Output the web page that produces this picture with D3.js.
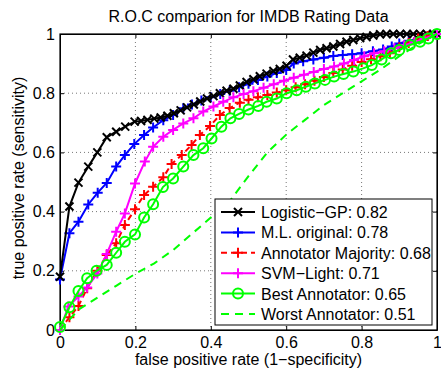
<!DOCTYPE html>
<html>
<head>
<meta charset="utf-8">
<script src="https://cdn.jsdelivr.net/npm/d3@7"></script>
<style>
body { margin: 0; background: #fff; }
text { font-family: "Liberation Sans", Arial, sans-serif; }
</style>
</head>
<body>
<script>
// ROC points [fpr, tpr]
var logisticGP = [[0,0.18],[0.025,0.417],[0.049,0.498],[0.075,0.552],[0.099,0.6],[0.124,0.651],[0.149,0.67],[0.173,0.687],[0.198,0.704],[0.215,0.706],[0.232,0.71],[0.25,0.714],[0.267,0.718],[0.285,0.724],[0.302,0.732],[0.32,0.742],[0.337,0.752],[0.355,0.762],[0.372,0.772],[0.39,0.782],[0.407,0.79],[0.424,0.8],[0.442,0.808],[0.46,0.815],[0.477,0.826],[0.495,0.838],[0.513,0.847],[0.53,0.857],[0.548,0.866],[0.566,0.875],[0.583,0.882],[0.601,0.893],[0.618,0.914],[0.636,0.92],[0.654,0.927],[0.672,0.937],[0.69,0.946],[0.707,0.952],[0.725,0.958],[0.743,0.966],[0.76,0.974],[0.778,0.98],[0.796,0.986],[0.813,0.99],[0.831,0.995],[0.849,0.999],[0.866,1],[0.884,1],[0.902,1],[0.92,1],[0.937,1],[0.955,1],[0.973,1],[0.99,1],[1,1]];
var mlOriginal = [[0,0.171],[0.025,0.327],[0.049,0.366],[0.075,0.424],[0.1,0.464],[0.124,0.497],[0.149,0.552],[0.172,0.591],[0.197,0.628],[0.223,0.659],[0.247,0.684],[0.274,0.709],[0.3,0.726],[0.327,0.749],[0.35,0.762],[0.375,0.775],[0.4,0.786],[0.425,0.797],[0.45,0.808],[0.475,0.82],[0.5,0.832],[0.525,0.845],[0.55,0.856],[0.575,0.868],[0.6,0.878],[0.62,0.9],[0.645,0.908],[0.672,0.914],[0.7,0.92],[0.725,0.926],[0.75,0.929],[0.775,0.932],[0.8,0.935],[0.83,0.942],[0.857,0.948],[0.88,0.958],[0.9,0.968],[0.925,0.977],[0.95,0.985],[0.975,0.993],[1,1]];
var annotatorMajority = [[0,0],[0.025,0.043],[0.049,0.081],[0.072,0.141],[0.099,0.2],[0.124,0.253],[0.149,0.293],[0.172,0.355],[0.199,0.408],[0.223,0.456],[0.247,0.484],[0.274,0.516],[0.296,0.561],[0.323,0.591],[0.349,0.625],[0.371,0.659],[0.398,0.689],[0.424,0.726],[0.45,0.75],[0.477,0.768],[0.5,0.778],[0.525,0.786],[0.55,0.794],[0.575,0.802],[0.6,0.81],[0.625,0.82],[0.65,0.83],[0.675,0.842],[0.7,0.855],[0.725,0.868],[0.75,0.88],[0.775,0.893],[0.8,0.905],[0.825,0.915],[0.85,0.925],[0.875,0.935],[0.9,0.955],[0.925,0.97],[0.95,0.985],[0.975,0.993],[1,1]];
var svmLight = [[0,0],[0.022,0.079],[0.049,0.113],[0.072,0.144],[0.099,0.191],[0.124,0.257],[0.149,0.332],[0.172,0.394],[0.199,0.495],[0.225,0.569],[0.247,0.619],[0.274,0.653],[0.3,0.676],[0.327,0.698],[0.354,0.715],[0.38,0.738],[0.407,0.755],[0.433,0.771],[0.46,0.786],[0.487,0.797],[0.513,0.807],[0.54,0.818],[0.567,0.83],[0.594,0.842],[0.62,0.852],[0.647,0.862],[0.673,0.872],[0.7,0.882],[0.727,0.89],[0.753,0.9],[0.78,0.912],[0.807,0.925],[0.833,0.935],[0.86,0.942],[0.887,0.952],[0.913,0.962],[0.94,0.972],[0.967,0.985],[1,1]];
var bestAnnotator = [[0,0.01],[0.025,0.077],[0.049,0.132],[0.072,0.175],[0.097,0.2],[0.124,0.22],[0.149,0.261],[0.172,0.298],[0.199,0.323],[0.223,0.38],[0.247,0.425],[0.273,0.483],[0.3,0.512],[0.327,0.552],[0.354,0.591],[0.38,0.614],[0.402,0.647],[0.428,0.687],[0.452,0.715],[0.475,0.73],[0.5,0.745],[0.526,0.757],[0.548,0.771],[0.575,0.782],[0.601,0.8],[0.628,0.81],[0.652,0.822],[0.676,0.833],[0.703,0.845],[0.727,0.856],[0.752,0.865],[0.778,0.873],[0.804,0.884],[0.827,0.895],[0.853,0.914],[0.878,0.935],[0.9,0.946],[0.928,0.963],[0.955,0.974],[0.977,0.985],[1,1]];
var worstAnnotator = [[0,0],[0.05,0.07],[0.1,0.11],[0.15,0.15],[0.2,0.19],[0.25,0.225],[0.3,0.27],[0.35,0.325],[0.4,0.38],[0.45,0.435],[0.5,0.52],[0.55,0.6],[0.6,0.66],[0.65,0.71],[0.7,0.76],[0.75,0.8],[0.8,0.84],[0.85,0.88],[0.9,0.925],[0.95,0.965],[1,1]];

var legendLabels = ["Logistic\u2212GP: 0.82", "M.L. original: 0.78", "Annotator Majority: 0.68", "SVM\u2212Light: 0.71", "Best Annotator: 0.65", "Worst Annotator: 0.51"];
var ticks = [0, 0.2, 0.4, 0.6, 0.8, 1];

var W = 441, H = 372;
var pL = 60, pR = 437, pT = 34, pB = 330;
var fs = 16;

var series = [
    {data: logisticGP, color: "#000000", marker: "x", dash: null},
    {data: mlOriginal, color: "#0000ff", marker: "+", dash: null},
    {data: annotatorMajority, color: "#ff0000", marker: "+", dash: "6,4"},
    {data: svmLight, color: "#ff00ff", marker: "+", dash: null},
    {data: bestAnnotator, color: "#00ff00", marker: "o", dash: null},
    {data: worstAnnotator, color: "#00ff00", marker: null, dash: "8,6"}
];

var svg = d3.select("body").append("svg")
    .attr("width", W).attr("height", H);

var x = d3.scaleLinear().domain([0, 1]).range([pL, pR]);
var y = d3.scaleLinear().domain([0, 1]).range([pB, pT]);

// grid
var grid = svg.append("g");
grid.selectAll("line.gx").data(ticks.slice(1, -1)).enter().append("line")
    .attr("x1", d => x(d)).attr("x2", d => x(d))
    .attr("y1", pT).attr("y2", pB)
    .attr("stroke", "#777").attr("stroke-width", 1).attr("stroke-dasharray", "1,3");
grid.selectAll("line.gy").data(ticks.slice(1, -1)).enter().append("line")
    .attr("y1", d => y(d)).attr("y2", d => y(d))
    .attr("x1", pL).attr("x2", pR)
    .attr("stroke", "#777").attr("stroke-width", 1).attr("stroke-dasharray", "1,3");

// axes (matlab style: ticks inside, on all four sides)
var fmt = d3.format("~g");
svg.append("g").attr("transform", "translate(0," + pB + ")")
    .call(d3.axisBottom(x).tickValues(ticks).tickFormat(fmt).tickSizeInner(-4).tickSizeOuter(0).tickPadding(7));
svg.append("g").attr("transform", "translate(" + pL + ",0)")
    .call(d3.axisLeft(y).tickValues(ticks).tickFormat(fmt).tickSizeInner(-4).tickSizeOuter(0).tickPadding(5));
svg.append("g").attr("transform", "translate(0," + pT + ")")
    .call(d3.axisTop(x).tickValues(ticks).tickFormat("").tickSizeInner(-4).tickSizeOuter(0));
svg.append("g").attr("transform", "translate(" + pR + ",0)")
    .call(d3.axisRight(y).tickValues(ticks).tickFormat("").tickSizeInner(-4).tickSizeOuter(0));
svg.selectAll(".tick text").attr("font-size", fs).attr("fill", "#000")
    .style("font-family", "'Liberation Sans', Arial, sans-serif");
svg.selectAll(".domain").attr("stroke", "#000");

svg.append("rect").attr("x", pL).attr("y", pT)
    .attr("width", pR - pL).attr("height", pB - pT)
    .attr("fill", "none").attr("stroke", "#000").attr("stroke-width", 1.2);

function drawMarker(g, type, cx, cy, color) {
    var s = 4;
    if (type === "x") {
        g.append("path").attr("d", "M" + (cx - s) + "," + (cy - s) + "L" + (cx + s) + "," + (cy + s) + "M" + (cx - s) + "," + (cy + s) + "L" + (cx + s) + "," + (cy - s))
            .attr("stroke", color).attr("stroke-width", 2).attr("fill", "none");
    } else if (type === "+") {
        s = 5;
        g.append("path").attr("d", "M" + (cx - s) + "," + cy + "L" + (cx + s) + "," + cy + "M" + cx + "," + (cy - s) + "L" + cx + "," + (cy + s))
            .attr("stroke", color).attr("stroke-width", 2).attr("fill", "none");
    } else if (type === "o") {
        g.append("circle").attr("cx", cx).attr("cy", cy).attr("r", 5)
            .attr("stroke", color).attr("stroke-width", 2).attr("fill", "none");
    }
}

var line = d3.line().x(d => x(d[0])).y(d => y(d[1]));

// draw order: later series on top
var order = [1, 0, 2, 3, 4, 5];
order.forEach(function(i) {
    var s = series[i];
    var g = svg.append("g");
    g.append("path").datum(s.data).attr("d", line)
        .attr("fill", "none").attr("stroke", s.color).attr("stroke-width", 2)
        .attr("stroke-dasharray", s.dash);
    if (s.marker) {
        s.data.forEach(function(d) { drawMarker(g, s.marker, x(d[0]), y(d[1]), s.color); });
    }
});

// legend
var lx = 215, ly = 199, lw = 217, lh = 126;
var leg = svg.append("g");
leg.append("rect").attr("x", lx).attr("y", ly).attr("width", lw).attr("height", lh)
    .attr("fill", "#fff").attr("stroke", "#000").attr("stroke-width", 1);
series.forEach(function(s, i) {
    var yy = ly + 13 + i * 20.4;
    leg.append("line").attr("x1", lx + 6).attr("x2", lx + 40).attr("y1", yy).attr("y2", yy)
        .attr("stroke", s.color).attr("stroke-width", 2).attr("stroke-dasharray", s.dash);
    if (s.marker) drawMarker(leg, s.marker, lx + 23, yy, s.color);
    leg.append("text").attr("x", lx + 46).attr("y", yy + 6)
        .attr("font-size", fs).text(legendLabels[i]);
});

// titles
svg.append("text").attr("x", (pL + pR) / 2).attr("y", 22)
    .attr("text-anchor", "middle").attr("font-size", fs)
    .text("R.O.C comparion for IMDB Rating Data");
svg.append("text").attr("x", (pL + pR) / 2).attr("y", 365)
    .attr("text-anchor", "middle").attr("font-size", fs)
    .text("false positive rate (1\u2212specificity)");
svg.append("text").attr("transform", "translate(23.5,178) rotate(-90)")
    .attr("text-anchor", "middle").attr("font-size", fs)
    .text("true positive rate (sensitivity)");
</script>
</body>
</html>
